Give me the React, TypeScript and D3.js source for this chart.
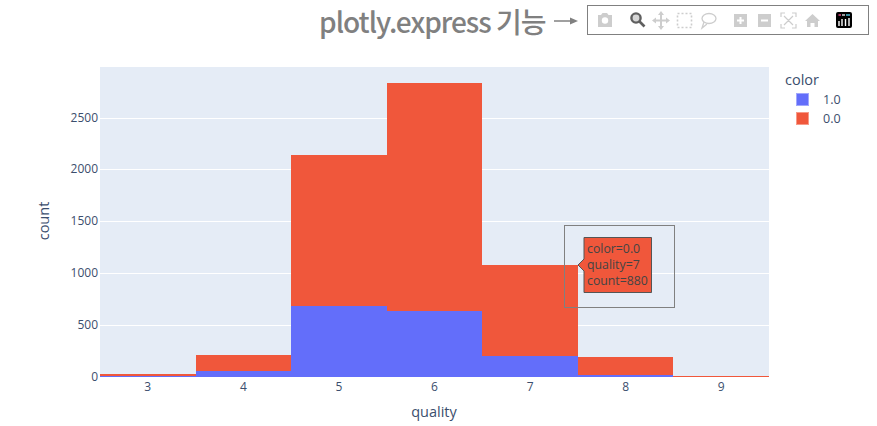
import React from "react";
import * as d3 from "d3";

const qualities = [3, 4, 5, 6, 7, 8, 9];
const color1 = [10, 53, 681, 638, 199, 18, 0];
const color0 = [20, 163, 1457, 2198, 880, 175, 5];
const yTicks = [0, 500, 1000, 1500, 2000, 2500];
const legendLabels = ["1.0", "0.0"];
const hoverLines = ["color=0.0", "quality=7", "count=880"];

const W = 877, H = 426;
const font = "'Open Sans', sans-serif";
const ink = "#3b4e6d";
const x = d3.scaleLinear().domain([2.5, 9.5]).range([100, 769]);
const y = d3.scaleLinear().domain([0, 2500]).range([377, 117.5]);
const BLUE = "#636efa", RED = "#f0573b";
const icon = "#cdcdcd";

export default function App() {
  React.useEffect(() => { document.body.style.margin = "0"; }, []);
  return (
    <svg width={W} height={H} style={{ position: "absolute", left: 0, top: 0, background: "#fff" }} fontFamily={font}>
      <rect x={100} y={67} width={669} height={310} fill="#e5ecf6" />
      {yTicks.slice(1).map(t => (
        <line key={t} x1={100} x2={769} y1={Math.round(y(t)) + 0.5} y2={Math.round(y(t)) + 0.5} stroke="#fff" strokeWidth={1} />
      ))}
      <g shapeRendering="crispEdges">
        {qualities.map((q, i) => (
          <g key={q}>
            <rect x={x(q - 0.5)} width={x(q + 0.5) - x(q - 0.5)} y={y(color1[i])} height={y(0) - y(color1[i])} fill={BLUE} />
            <rect x={x(q - 0.5)} width={x(q + 0.5) - x(q - 0.5)} y={y(color1[i] + color0[i])} height={y(color1[i]) - y(color1[i] + color0[i])} fill={RED} />
          </g>
        ))}
      </g>
      {qualities.map(q => (
        <text key={q} x={x(q)} y={391} textAnchor="middle" fontSize={12} fill={ink}>{q}</text>
      ))}
      {yTicks.map(t => (
        <text key={t} x={98} y={y(t) + 4} textAnchor="end" fontSize={12} fill={ink}>{t}</text>
      ))}
      <text x={434} y={417} textAnchor="middle" fontSize={14.5} fill={ink}>quality</text>
      <text transform="translate(49,221) rotate(-90)" textAnchor="middle" fontSize={14.5} fill={ink}>count</text>

      <text x={785} y={85} fontSize={14.5} fill={ink}>color</text>
      {legendLabels.map((l, i) => (
        <g key={l}>
          <rect x={796.5} y={93.5 + i * 19} width={12} height={12} fill={i === 0 ? BLUE : RED} stroke={i === 0 ? "#a1a8fc" : "#f79a88"} strokeWidth={1} />
          <text x={823} y={104 + i * 19} fontSize={12.5} fill={ink}>{l}</text>
        </g>
      ))}

      <rect x={564.5} y={225.5} width={110} height={82} fill="none" stroke="#808080" strokeWidth={1} />
      <path d="M578,265 L584,259 L584,237.5 L651.5,237.5 L651.5,292.5 L584,292.5 L584,271 Z" fill={RED} stroke="#555" strokeWidth={1} />
      {hoverLines.map((l, i) => (
        <text key={l} x={587} y={253 + i * 16} fontSize={12.3} fill="#444">{l}</text>
      ))}

      <text x={319} y={33} fontFamily="'Noto Sans CJK KR', 'Open Sans', sans-serif" fontSize={28} fontWeight={500} letterSpacing={-1} fill="#808080">plotly.express 기능</text>
      <path d="M554,21 H572" stroke="#808080" strokeWidth={1.5} fill="none" />
      <path d="M570,17.5 L578,21 L570,24.5 Z" fill="#808080" />
      <rect x={587.5} y={5.5} width={281} height={29} fill="#fff" stroke="#808080" strokeWidth={1} />

      {/* modebar */}
      <g fill={icon} stroke="none">
        <path d="M598,15 H601 L602.5,13 H607 L608.5,15 H612 V27 H598 Z" />
        <circle cx={605} cy={20.5} r={3.2} fill="#fff" />
        <g transform="translate(630,12)">
          <circle cx={6} cy={6} r={4.6} fill="#d6d6d6" stroke="#5f5f5f" strokeWidth={2.4} />
          <line x1={9.5} y1={9.5} x2={14.5} y2={14.5} stroke="#5f5f5f" strokeWidth={2.6} />
        </g>
        <path d="M661,13 V28 M654,20.5 H668" stroke={icon} strokeWidth={2} />
        <path d="M661,11 L664,15 H658 Z M661,30 L664,26 H658 Z M652,20.5 L656,17.5 V23.5 Z M670,20.5 L666,17.5 V23.5 Z" />
        <rect x={677.5} y={13.5} width={14} height={14} fill="none" stroke={icon} strokeWidth={1.6} strokeDasharray="2 2" />
        <ellipse cx={709} cy={18.5} rx={7} ry={5} fill="none" stroke={icon} strokeWidth={1.3} />
        <path d="M704,22 L702,28 L707,24" fill="none" stroke={icon} strokeWidth={1.3} />
        <rect x={734} y={14} width={13} height={13} />
        <path d="M740.5,17 V24 M737,20.5 H744" stroke="#fff" strokeWidth={2} />
        <rect x={758} y={14} width={13} height={13} />
        <path d="M761,20.5 H768" stroke="#fff" strokeWidth={2} />
        <path d="M781,17 V13 H785 M792,13 H796 V17 M796,24 V28 H792 M785,28 H781 V24 M784,16 L793,25 M793,16 L784,25" fill="none" stroke={icon} strokeWidth={1.2} />
        <path d="M805,21 L812.5,14 L820,21 H818 V27 H814.5 V23 H810.5 V27 H807 V21 Z" />
      </g>
      <rect x={836} y={12} width={16} height={16} rx={2} fill="#000" />
      <g stroke="#fff" strokeWidth={1.4}>
        <path d="M839,21 V26 M842,19 V26 M845.5,19 V26 M849,18 V26" />
      </g>
      <path d="M838.5,15 H841" stroke="#ef4d8c" strokeWidth={1.4} />
      <path d="M842,15 H845" stroke="#e3e3e3" strokeWidth={1.4} />
      <path d="M846,15 H850" stroke="#4ec4e0" strokeWidth={1.4} />
    </svg>
  );
}
